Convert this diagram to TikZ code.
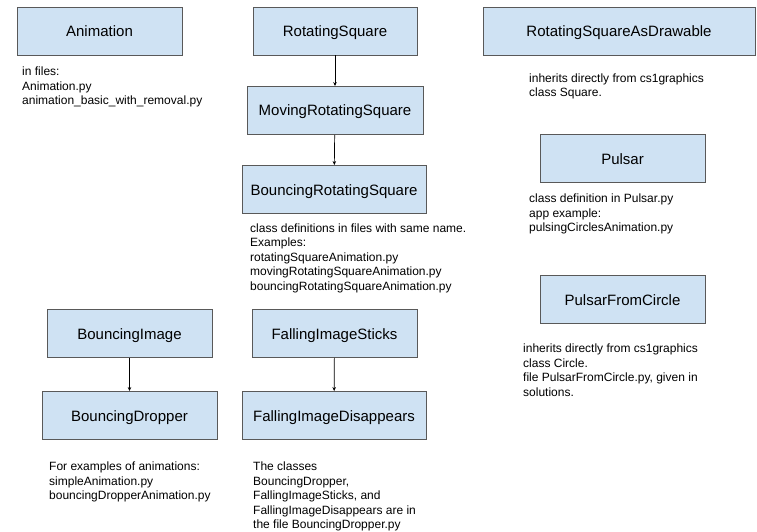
\documentclass[tikz,border=0pt]{standalone}
\usepackage{fontspec}
\setmainfont{Liberation Sans}
\usetikzlibrary{arrows.meta}
\definecolor{boxfill}{HTML}{CFE2F3}
\definecolor{boxline}{HTML}{595959}
\tikzstyle{classbox} = [rectangle, draw=boxline, fill=boxfill, line width=0.9pt, inner sep=0pt, minimum height=48pt, text height=11pt, text depth=0pt, font=\fontsize{15}{18}\selectfont]
\tikzstyle{note} = [anchor=north west, inner sep=0pt, align=left, font=\fontsize{12}{14.5}\selectfont]
\tikzstyle{inherit} = [-{Stealth[length=4pt,width=3.5pt]}, line width=0.7pt]

\begin{document}
\begin{tikzpicture}[x=1pt, y=-1pt]
      \useasboundingbox (0,0) rectangle (757,532);
      \fill[white] (0,0) rectangle (757,532);
      % classes
      \node[classbox, minimum width=165pt] (anim) at (99.5,31) {Animation};
      \node[classbox, minimum width=164pt] (rsq) at (335,31) {RotatingSquare};
      \node[classbox, minimum width=176pt] (mrsq) at (335,110.5) {MovingRotatingSquare};
      \node[classbox, minimum width=184pt] (brsq) at (334,189.5) {BouncingRotatingSquare};
      \node[classbox, minimum width=272pt] (rsqd) at (619,31) {RotatingSquareAsDrawable};
      \node[classbox, minimum width=165pt] (pulsar) at (622.5,158.5) {Pulsar};
      \node[classbox, minimum width=165pt] (pfc) at (622.5,299.5) {PulsarFromCircle};
      \node[classbox, minimum width=165pt] (bimg) at (129.5,333.5) {BouncingImage};
      \node[classbox, minimum width=175pt] (bdrop) at (129.5,415.5) {BouncingDropper};
      \node[classbox, minimum width=165pt] (fis) at (334.5,333.5) {FallingImageSticks};
      \node[classbox, minimum width=184pt] (fid) at (334,415.5) {FallingImageDisappears};
      % arrows
      \draw[inherit] (rsq) -- (mrsq);
      \draw[inherit] (mrsq) -- (brsq);
      \draw[inherit] (bimg) -- (bdrop);
      \draw[inherit] (fis) -- (fid);
      % notes
      \node[note] (animnote) at (22,67) {in files:\\Animation.py\\animation\_basic\_with\_removal.py};
      \node[note] (brsqnote) at (250,223.5) {class definitions in files with same name.\\Examples:\\rotatingSquareAnimation.py\\movingRotatingSquareAnimation.py\\bouncingRotatingSquareAnimation.py};
      \node[note] (rsqdnote) at (529,73.5) {inherits directly from cs1graphics\\class Square.};
      \node[note] (pulsarnote) at (529,194) {class definition in Pulsar.py\\app example:\\pulsingCirclesAnimation.py};
      \node[note] (pfcnote) at (523,344) {inherits directly from cs1graphics\\class Circle.\\file PulsarFromCircle.py, given in\\solutions.};
      \node[note] (bdropnote) at (49,462) {For examples of animations:\\simpleAnimation.py\\bouncingDropperAnimation.py};
      \node[note] (fidnote) at (253,462) {The classes\\BouncingDropper,\\FallingImageSticks, and\\FallingImageDisappears are in\\the file BouncingDropper.py};
    \end{tikzpicture}
\end{document}
